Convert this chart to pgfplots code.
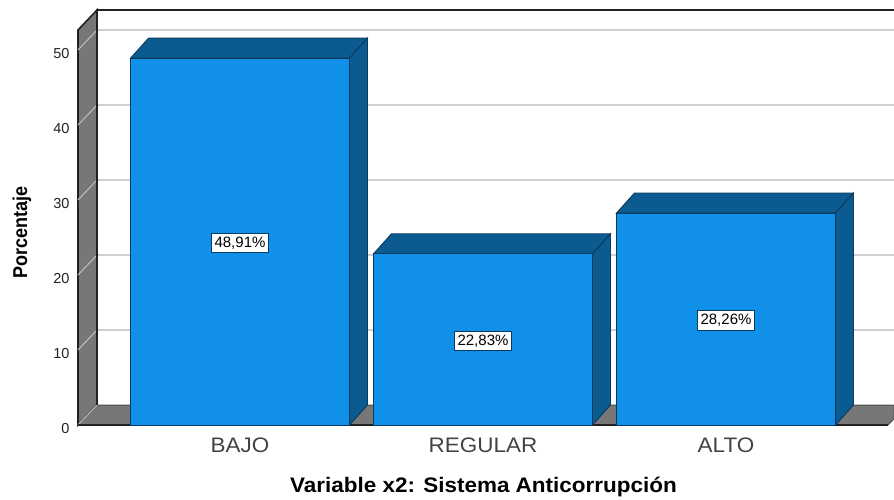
\documentclass[border=0pt]{standalone}
\usepackage{fontspec}
\setmainfont{Liberation Sans}
\usepackage{pgfplots}
\pgfplotsset{compat=1.18}
\definecolor{front}{HTML}{1190E9}
\definecolor{shade}{HTML}{0B5A90}
\definecolor{edge}{HTML}{0A3A5C}
\definecolor{wall}{HTML}{777777}
\definecolor{gridc}{HTML}{CFCFCF}
\definecolor{ink}{HTML}{222222}
\begin{document}
\begin{tikzpicture}[x=1pt,y=1pt]
\path[use as bounding box] (0,0) rectangle (894,499);
\begin{axis}[
  at={(78pt,74pt)}, anchor=south west,
  scale only axis, width=816pt, height=415pt,
  xmin=-0.6667, xmax=2.6914, ymin=0, ymax=55.333,
  clip=false,
  axis line style={draw=none},
  major tick length=0pt,
  xtick={0,1,2}, xticklabels={BAJO,REGULAR,ALTO},
  ytick={0,10,20,30,40,50},
  /pgf/number format/assume math mode=true,
  xticklabel style={font=\fontsize{21}{24}\selectfont, text=ink!85!white, anchor=center, yshift=-20pt, xscale=1.07},
  yticklabel style={font=\fontsize{14.5}{16}\selectfont, text=ink, anchor=east, xshift=-5pt, yshift=-4pt},
  xlabel={Variable x2: Sistema Anticorrupción},
  xlabel style={font=\fontsize{21}{24}\selectfont\bfseries, text=black, at={(axis description cs:0.4969,-0.15)}, anchor=center, xscale=1.07},
  ylabel={Porcentaje},
  ylabel style={font=\fontsize{20}{22}\selectfont\bfseries, text=black, at={(axis description cs:-0.0686,0.4627)}, anchor=center, xscale=0.9},
]
% left wall and floor
\addplot[fill=wall, draw=ink, line width=1.6pt] coordinates {(-0.6667,0) (-0.6667,52.667) (-0.5885,55.333) (-0.5885,2.667)} -- cycle;
\addplot[fill=wall, draw=ink!80!white, line width=1pt] coordinates {(-0.6667,0) (2.6667,0) (2.6914,0.84) (2.6914,2.667) (-0.5885,2.667)} -- cycle;
% back gridlines
\addplot[gridc, line width=1.2pt] coordinates {(-0.5885,12.667) (2.6914,12.667)};
\addplot[gridc, line width=1.2pt] coordinates {(-0.5885,22.667) (2.6914,22.667)};
\addplot[gridc, line width=1.2pt] coordinates {(-0.5885,32.667) (2.6914,32.667)};
\addplot[gridc, line width=1.2pt] coordinates {(-0.5885,42.667) (2.6914,42.667)};
\addplot[gridc, line width=1.2pt] coordinates {(-0.5885,52.667) (2.6914,52.667)};
% grid on the wall
\addplot[gridc!80!gray, line width=1pt] coordinates {(-0.6667,10) (-0.5885,12.667)};
\addplot[gridc!80!gray, line width=1pt] coordinates {(-0.6667,20) (-0.5885,22.667)};
\addplot[gridc!80!gray, line width=1pt] coordinates {(-0.6667,30) (-0.5885,32.667)};
\addplot[gridc!80!gray, line width=1pt] coordinates {(-0.6667,40) (-0.5885,42.667)};
\addplot[gridc!80!gray, line width=1pt] coordinates {(-0.6667,50) (-0.5885,52.667)};
\addplot[gridc!80!gray, line width=1pt] coordinates {(-0.6667,0) (-0.5885,2.667)};
% frame
\addplot[ink, line width=1.6pt] coordinates {(-0.5885,2.667) (-0.5885,55.333) (2.6914,55.333)};
\addplot[ink, line width=1.4pt] coordinates {(-0.6667,0) (2.6667,0)};
% bar tops
\addplot[fill=shade, draw=edge, line width=0.9pt] coordinates {(-0.4506,48.91) (0.4506,48.91) (0.5246,51.577) (-0.3766,51.577)} -- cycle;
\addplot[fill=shade, draw=edge, line width=0.9pt] coordinates {(0.5494,22.83) (1.4506,22.83) (1.5246,25.497) (0.6234,25.497)} -- cycle;
\addplot[fill=shade, draw=edge, line width=0.9pt] coordinates {(1.5494,28.26) (2.4506,28.26) (2.5246,30.927) (1.6234,30.927)} -- cycle;
% bar sides
\addplot[fill=shade, draw=edge, line width=0.9pt] coordinates {(0.4506,0) (0.5246,2.667) (0.5246,51.577) (0.4506,48.91)} -- cycle;
\addplot[fill=shade, draw=edge, line width=0.9pt] coordinates {(1.4506,0) (1.5246,2.667) (1.5246,25.497) (1.4506,22.83)} -- cycle;
\addplot[fill=shade, draw=edge, line width=0.9pt] coordinates {(2.4506,0) (2.5246,2.667) (2.5246,30.927) (2.4506,28.26)} -- cycle;
% bar fronts
\addplot[ybar, bar width=219pt, bar shift=0pt, fill=front, draw=edge, line width=0.9pt] coordinates {(0,48.91) (1,22.83) (2,28.26)};
% value labels
\addplot[only marks, mark=none, point meta=explicit symbolic,
  nodes near coords, nodes near coords align={anchor=center},
  every node near coord/.style={font=\fontsize{15}{16}\selectfont, text=black, fill=white, draw=edge, line width=1.1pt, inner xsep=3.5pt, inner ysep=3.5pt, anchor=center, yshift=-1.5pt}]
  coordinates {(0,24.455)[48,91\%] (1,11.415)[22,83\%] (2,14.13)[28,26\%]};
\end{axis}
\end{tikzpicture}
\end{document}
